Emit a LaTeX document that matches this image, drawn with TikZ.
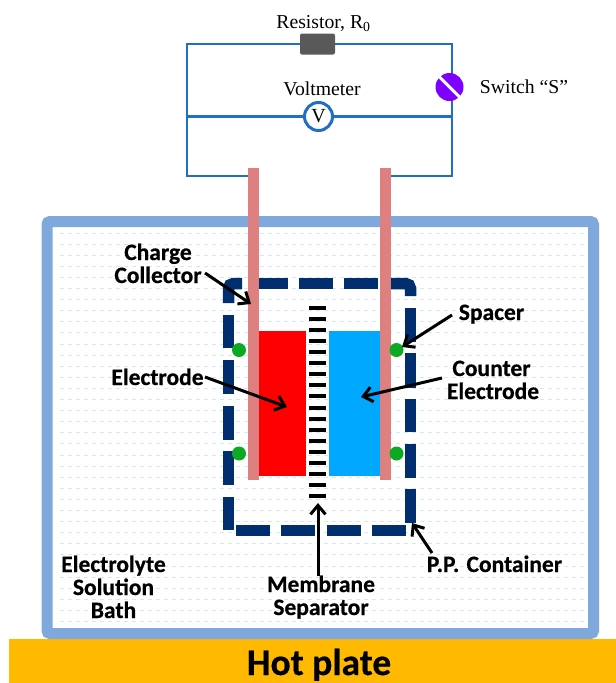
\documentclass[tikz,border=0pt]{standalone}
\usepackage{fontspec}
\setmainfont{Liberation Serif}
\newfontfamily\lblfont[BoldFeatures={FakeBold=0.5}]{Carlito}
\usetikzlibrary{arrows.meta}
\definecolor{wire}{HTML}{1F70C4}
\definecolor{bath}{HTML}{7FA9DC}
\definecolor{ripple}{HTML}{D6E6F8}
\definecolor{navy}{HTML}{002E6E}
\definecolor{collector}{HTML}{DE8080}
\definecolor{plate}{HTML}{FFBA00}
\definecolor{spacerc}{HTML}{0BAA22}
\definecolor{swcol}{HTML}{8000FF}
\definecolor{elblue}{HTML}{00A8FF}
\tikzset{
  wireline/.style={draw=wire,line width=2.6pt},
  serif/.style={anchor=base,font=\fontsize{19.7}{22}\selectfont,inner sep=0pt},
  lbl/.style={anchor=base,yshift=-1pt,font=\lblfont\bfseries\fontsize{23.5}{25}\selectfont,inner sep=0pt,text=black},
  contdash/.style={draw=navy,line width=11.5pt},
  callout/.style={draw=black,line width=3pt,-{Straight Barb[length=9pt,width=15pt,line width=3pt]}},
  collbar/.style={fill=collector,draw=none,minimum width=11pt,minimum height=312pt,inner sep=0pt,anchor=north},
  dot/.style={circle,fill=spacerc,draw=none,minimum size=14pt,inner sep=0pt},
}
\begin{document}
\begin{tikzpicture}[x=1pt,y=-1pt]
\useasboundingbox (0,0) rectangle (616,683);
% hot plate
\fill[plate] (9,639) rectangle (616,683);
\node[anchor=base,font=\lblfont\bfseries\fontsize{37.5}{40}\selectfont,inner sep=0pt] (hot) at (319,675) {Hot plate};
% bath
\draw[bath,line width=11pt,fill=white,rounded corners=3pt] (47,221.5) rectangle (593.5,633.5);
\foreach \y in {0,...,35}{
  \draw[ripple,line width=1pt,dash pattern=on 4pt off 4pt] (60,233+\y*11.1) -- (584,233+\y*11.1);
}
% circuit
\node[fill=black!65,draw=none,rounded corners=2pt,minimum width=35pt,minimum height=21pt,inner sep=0pt] (res) at (317.5,44) {};
\node[circle,fill=white,draw=wire,line width=3pt,minimum size=28pt,inner sep=0pt,font=\fontsize{20}{20}\selectfont] (volt) at (318.5,116.5) {V};
\coordinate (tl) at (187,44);
\coordinate (tr) at (452,44);
\coordinate (ml) at (187,116.5);
\coordinate (mr) at (452,116.5);
\coordinate (bl) at (187,176);
\coordinate (br) at (452,176);
\coordinate (cl) at (250,176);
\coordinate (cr) at (385,176);
\draw[wireline,line join=miter] (res.west) -- (tl) -- (bl) -- (cl);
\draw[wireline,line join=miter] (res.east) -- (tr) -- (br) -- (cr);
\draw[wireline] (ml) -- (volt.west);
\draw[wireline] (volt.east) -- (mr);
\node[circle,fill=swcol,draw=none,minimum size=28pt,inner sep=0pt] (sw) at (449.5,87) {};
\draw[white,line width=3pt] (sw.north west) -- (sw.south east);
\node[serif] (rlab) at (323.5,28) {Resistor, R\textsubscript{0}};
\node[serif] (vlab) at (322,95) {Voltmeter};
\node[serif] (slab) at (524,93) {Switch “S”};
% container
\draw[contdash,rounded corners=5pt] (228.5,303) -- (228.5,283.5) -- (242,283.5);
\foreach \a/\b in {253.5/287.5,299/333,344/378}{\draw[contdash] (\a,283.5) -- (\b,283.5);}
\draw[contdash,rounded corners=5pt] (390,283.5) -- (410.5,283.5) -- (410.5,296);
\foreach \a/\b in {308/342,353/388,399/432,444/478,489/523}{\draw[contdash] (410.5,\a) -- (410.5,\b);}
\foreach \a/\b in {315/348,360/394,406/440,451/485,497/530}{\draw[contdash] (228.5,\a) -- (228.5,\b);}
\foreach \a/\b in {236/270,281/315,327/361,372/406}{\draw[contdash] (\a,530.5) -- (\b,530.5);}
% cell
\node[fill=red,draw=none,minimum width=47pt,minimum height=145pt,inner sep=0pt,anchor=north west] (red) at (259,331) {};
\node[fill=elblue,draw=none,minimum width=51pt,minimum height=145pt,inner sep=0pt,anchor=north west] (blue) at (329,331) {};
\node[collbar] (colL) at (253.5,168) {};
\node[collbar] (colR) at (385.5,168) {};
\foreach \i in {0,...,17}{\fill[black] (309,306+\i*11.06) rectangle (326,310+\i*11.06);}
\node[dot] (s1) at (239,350) {};
\node[dot] (s2) at (396.5,350) {};
\node[dot] (s3) at (239,453.5) {};
\node[dot] (s4) at (396.5,453.5) {};
% labels
\node[lbl] (cc1) at (158,259) {Charge};
\node[lbl] (cc2) at (158,282) {Collector};
\node[lbl] (el) at (157.5,384) {Electrode};
\node[lbl] (sp) at (491.5,319) {Spacer};
\node[lbl] (ce1) at (491.5,375) {Counter};
\node[lbl] (ce2) at (493,398) {Electrode};
\node[lbl] (bath1) at (113.5,571) {Electrolyte};
\node[lbl] (bath2) at (113.5,594) {Solution};
\node[lbl] (bath3) at (113.5,617) {Bath};
\node[lbl] (mem1) at (321,591) {Membrane};
\node[lbl] (mem2) at (321,614) {Separator};
\node[lbl] (pp) at (494.5,571) {P.P.\hspace{2pt} Container};
% callouts
\coordinate (a1) at (205,273); \coordinate (a2) at (251,304);
\coordinate (b1) at (205,377); \coordinate (b2) at (287,407);
\coordinate (c1) at (452,315); \coordinate (c2) at (402,347);
\coordinate (d1) at (442,378); \coordinate (d2) at (361,397);
\coordinate (e1) at (318,576); \coordinate (e2) at (318,503);
\coordinate (f1) at (432,553); \coordinate (f2) at (412,523);
\draw[callout] (a1) -- (a2);
\draw[callout] (b1) -- (b2);
\draw[callout] (c1) -- (c2);
\draw[callout] (d1) -- (d2);
\draw[callout] (e1) -- (e2);
\draw[callout] (f1) -- (f2);
\end{tikzpicture}
\end{document}
